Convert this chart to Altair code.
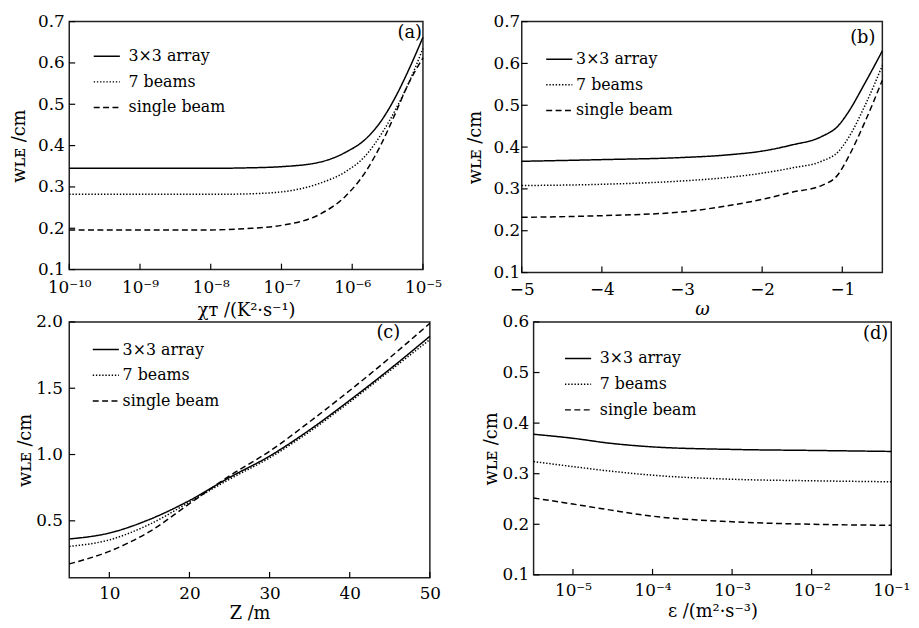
import altair as alt
import pandas as pd

# ---------------- data ----------------
series_names = ["3×3 array", "7 beams", "single beam"]

# (a) w_LE vs chi_T
xa = [1e-10, 1e-9, 1e-8, 3e-8, 1e-7, 3.5e-7, 8.1e-7, 1.55e-6, 2.65e-6, 4.1e-6, 6.2e-6, 1e-5]
ya_array = [0.345, 0.345, 0.345, 0.346, 0.349, 0.360, 0.384, 0.416, 0.463, 0.518, 0.581, 0.662]
ya_seven = [0.282, 0.282, 0.282, 0.283, 0.288, 0.309, 0.337, 0.376, 0.431, 0.487, 0.549, 0.635]
ya_single = [0.196, 0.196, 0.196, 0.199, 0.207, 0.234, 0.278, 0.337, 0.408, 0.479, 0.549, 0.612]

# (b) w_LE vs omega
xb = [-5, -4, -3, -2.45, -1.95, -1.63, -1.26, -1.05, -0.93, -0.72, -0.5]
yb_array = [0.366, 0.370, 0.375, 0.381, 0.392, 0.405, 0.425, 0.451, 0.482, 0.552, 0.630]
yb_seven = [0.308, 0.311, 0.319, 0.327, 0.339, 0.350, 0.366, 0.389, 0.420, 0.498, 0.595]
yb_single = [0.232, 0.236, 0.245, 0.259, 0.277, 0.292, 0.308, 0.335, 0.374, 0.459, 0.560]

# (c) w_LE vs Z
xc = [5, 10, 15, 20, 25, 30, 35, 40, 45, 50]
yc_array = [0.363, 0.408, 0.510, 0.653, 0.827, 0.988, 1.186, 1.409, 1.644, 1.892]
yc_seven = [0.307, 0.356, 0.473, 0.641, 0.814, 0.975, 1.173, 1.396, 1.631, 1.867]
yc_single = [0.175, 0.270, 0.418, 0.629, 0.839, 1.025, 1.247, 1.483, 1.730, 1.990]

# (d) w_LE vs epsilon
xd = [3.2e-6, 1e-5, 3e-5, 1e-4, 1e-3, 1e-2, 1e-1]
yd_array = [0.378, 0.370, 0.360, 0.353, 0.348, 0.346, 0.344]
yd_seven = [0.324, 0.314, 0.305, 0.297, 0.289, 0.286, 0.284]
yd_single = [0.252, 0.240, 0.228, 0.216, 0.205, 0.200, 0.198]

# tick values
xa_ticks = [1e-10, 1e-9, 1e-8, 1e-7, 1e-6, 1e-5]
ya_ticks = [0.1, 0.2, 0.3, 0.4, 0.5, 0.6, 0.7]
xb_ticks = [-5, -4, -3, -2, -1]
yb_ticks = [0.1, 0.2, 0.3, 0.4, 0.5, 0.6, 0.7]
xc_ticks = [10, 20, 30, 40, 50]
yc_ticks = [0.5, 1.0, 1.5, 2.0]
xd_ticks = [1e-5, 1e-4, 1e-3, 1e-2, 1e-1]
yd_ticks = [0.1, 0.2, 0.3, 0.4, 0.5, 0.6]

FONT = "DejaVu Serif"
SUP = "['⁰','¹','²','³','⁴','⁵','⁶','⁷','⁸','⁹']"
E = "abs(round(log(datum.value)/LN10))"
LOG_LABEL = f"'10⁻' + ({E} >= 10 ? {SUP}[floor({E}/10)] : '') + {SUP}[{E} % 10]"


def long_df(x, ys):
    rows = []
    for name, y in zip(series_names, ys):
        for xv, yv in zip(x, y):
            rows.append({"x": xv, "y": yv, "series": name})
    return pd.DataFrame(rows)


def panel(x, ys, xscale, yscale, xticks, yticks, xtitle, W, H, tag, tag_dx, tag_dy,
          leg_x, leg_y, leg_off, ytitle_x, xtitle_y, ylab_pad, xlab_pad,
          xlog=False, yfmt=".1f", xtitle_italic=False):
    df = long_df(x, ys)
    xaxis_kw = dict(values=xticks, ticks=False, domain=False, grid=False,
                    labelFont=FONT, labelFontSize=17, labelColor="black",
                    labelPadding=xlab_pad, labelFlush=False, labelOverlap=False,
                    title=xtitle, titleFont=FONT, titleFontSize=18,
                    titleFontWeight="normal", titleColor="black",
                    titleY=xtitle_y, titleBaseline="middle",
                    titleFontStyle="italic" if xtitle_italic else "normal")
    if xlog:
        xaxis_kw["labelExpr"] = LOG_LABEL
    else:
        xaxis_kw["format"] = "d"
    xaxis = alt.Axis(**xaxis_kw)
    yaxis = alt.Axis(values=yticks, format=yfmt, ticks=False, domain=False, grid=False,
                     labelFont=FONT, labelFontSize=17, labelColor="black",
                     labelPadding=ylab_pad, labelFlush=False, labelOverlap=False,
                     title="wʟᴇ /cm", titleFont=FONT, titleFontSize=18,
                     titleFontWeight="normal", titleColor="black",
                     titleX=ytitle_x, titleBaseline="middle", titleAngle=270)
    lines = alt.Chart(df).mark_line(color="black", strokeWidth=1.5,
                                    interpolate="monotone").encode(
        x=alt.X("x:Q", scale=xscale, axis=xaxis),
        y=alt.Y("y:Q", scale=yscale, axis=yaxis),
        strokeDash=alt.StrokeDash(
            "series:N",
            scale=alt.Scale(domain=series_names,
                            range=[[1, 0], [1.4, 1.8], [6, 3.5]]),
            legend=alt.Legend(title=None, orient="none", legendX=leg_x, legendY=leg_y,
                              symbolType="stroke", symbolSize=700,
                              symbolStrokeWidth=1.5, symbolStrokeColor="black",
                              labelFont=FONT, labelFontSize=16, labelColor="black",
                              labelOffset=leg_off, rowPadding=4, padding=0)),
    )
    xt = alt.Chart(pd.DataFrame({"x": xticks})).mark_rule(
        color="black", strokeWidth=1.2).encode(
        x=alt.X("x:Q", scale=xscale), y=alt.value(H), y2=alt.value(H - 6))
    yt = alt.Chart(pd.DataFrame({"y": yticks})).mark_rule(
        color="black", strokeWidth=1.2).encode(
        y=alt.Y("y:Q", scale=yscale), x=alt.value(0), x2=alt.value(6))
    lab = alt.Chart(pd.DataFrame({"t": [tag]})).mark_text(
        font=FONT, fontSize=18, color="black", align="right", baseline="middle").encode(
        text="t:N", x=alt.value(W - tag_dx), y=alt.value(tag_dy))
    return alt.layer(lines, xt, yt, lab).properties(width=W, height=H)


pa = panel(xa, [ya_array, ya_seven, ya_single],
           alt.Scale(type="log", domain=[1e-10, 1e-5], nice=False),
           alt.Scale(domain=[0.1, 0.7], nice=False, zero=False),
           xa_ticks, ya_ticks, "χᴛ /(K²·s⁻¹)", 358, 251, "(a)", 1, 12,
           24, 21, 8, -50, 41, 5, 10, xlog=True)
pb = panel(xb, [yb_array, yb_seven, yb_single],
           alt.Scale(domain=[-5, -0.5], nice=False, zero=False),
           alt.Scale(domain=[0.1, 0.7], nice=False, zero=False),
           xb_ticks, yb_ticks, "ω", 365, 254, "(b)", 7, 17,
           24, 24, 3, -47, 37, 2, 9, xtitle_italic=True)
pc = panel(xc, [yc_array, yc_seven, yc_single],
           alt.Scale(domain=[5, 50], nice=False, zero=False),
           alt.Scale(domain=[0.07, 2.0], nice=False, zero=False),
           xc_ticks, yc_ticks, "Z /m", 365, 259, "(c)", 30, 11,
           23, 14, 3, -44, 36, 7, 8)
pd_ = panel(xd, [yd_array, yd_seven, yd_single],
            alt.Scale(type="log", domain=[3.2e-6, 1e-1], nice=False),
            alt.Scale(domain=[0.1, 0.6], nice=False, zero=False),
            xd_ticks, yd_ticks, "ε /(m²·s⁻³)", 362, 256, "(d)", 3, 12,
            31, 23, 8, -43, 37, 5, 8, xlog=True)

row1 = alt.hconcat(pa, pb, spacing=23).resolve_scale(x="independent", y="independent", strokeDash="independent")
row2 = alt.hconcat(pc, pd_, spacing=40).resolve_scale(x="independent", y="independent", strokeDash="independent")

chart = alt.vconcat(row1, row2, spacing=-8).resolve_scale(
    strokeDash="independent").properties(
    padding={"left": 2, "top": 0, "right": 0, "bottom": 0},
    background="white",
).configure(font=FONT).configure_view(stroke="#222222", strokeWidth=1.5).configure_legend(
    labelFont=FONT)

chart.save("out.html", embed_options={"renderer": "svg", "actions": False})
